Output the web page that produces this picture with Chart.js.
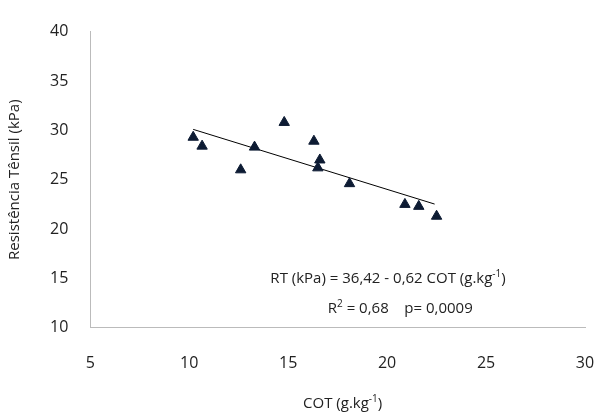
<!DOCTYPE html>
<html><head><meta charset="utf-8">
<script src="https://cdn.jsdelivr.net/npm/chart.js@4"></script>
<style>body{margin:0;background:#fff}#wrap{width:600px;height:418px}</style>
</head><body><div id="wrap"><canvas id="c"></canvas></div>
<script>
const cotValues = [10.2, 10.65, 12.6, 13.3, 14.8, 16.3, 16.6, 16.5, 18.1, 20.9, 21.6, 22.5];
const rtValues = [29.3, 28.4, 26.0, 28.3, 30.8, 28.9, 27.0, 26.2, 24.6, 22.5, 22.3, 21.3];
const intercept = 36.42;
const slope = -0.62;
const trendX = [10.2, 22.4];

const font = "'Open Sans', 'Liberation Sans', sans-serif";

const equationText = {
  id: 'equationText',
  afterDraw(chart) {
    const ctx = chart.ctx, xs = chart.scales.x, ys = chart.scales.y;
    ctx.save();
    ctx.fillStyle = '#222';
    ctx.font = '15px ' + font;
    ctx.textBaseline = 'alphabetic';
    let x = xs.getPixelForValue(14.1), y = ys.getPixelForValue(14.5);
    let t = 'RT (kPa) = 36,42 - 0,62 COT (g.kg';
    ctx.fillText(t, x, y);
    let w = ctx.measureText(t).width;
    ctx.font = '10px ' + font;
    ctx.fillText('-1', x + w, y - 6);
    let w2 = ctx.measureText('-1').width;
    ctx.font = '15px ' + font;
    ctx.fillText(')', x + w + w2, y);
    x = xs.getPixelForValue(17.0); y = ys.getPixelForValue(11.5);
    ctx.fillText('R', x, y);
    w = ctx.measureText('R').width;
    ctx.font = '10px ' + font;
    ctx.fillText('2', x + w, y - 6);
    w2 = ctx.measureText('2').width;
    ctx.font = '15px ' + font;
    ctx.fillText(' = 0,68    p= 0,0009', x + w + w2, y);
    // x title
    const cx = (xs.left + xs.right) / 2 + 5, cy = 408;
    t = 'COT (g.kg';
    w = ctx.measureText(t).width;
    ctx.font = '10px ' + font; w2 = ctx.measureText('-1').width;
    ctx.font = '15px ' + font;
    const w3 = ctx.measureText(')').width;
    const sx = cx - (w + w2 + w3) / 2;
    ctx.fillText(t, sx, cy);
    ctx.font = '10px ' + font; ctx.fillText('-1', sx + w, cy - 6);
    ctx.font = '15px ' + font; ctx.fillText(')', sx + w + w2, cy);
    ctx.restore();
  }
};

new Chart(document.getElementById('c'), {
  type: 'scatter',
  data: {
    datasets: [{
      data: cotValues.map((x, i) => ({x, y: rtValues[i]})),
      pointStyle: 'triangle', pointRadius: 6, pointHoverRadius: 6,
      backgroundColor: '#0d1b33', borderColor: '#0d1b33', borderWidth: 1
    }, {
      type: 'line',
      data: trendX.map(x => ({x, y: intercept + slope * x})),
      borderColor: '#000', borderWidth: 1, pointRadius: 0, fill: false
    }]
  },
  options: {
    responsive: true, maintainAspectRatio: false, animation: false,
    layout: {padding: {left: 2, right: 15, top: 8, bottom: 19}},
    plugins: {legend: {display: false}, tooltip: {enabled: false}},
    scales: {
      x: {
        min: 5, max: 30,
        afterFit(s) { s.paddingRight = 0; },
        ticks: {stepSize: 5, color: '#222', font: {size: 16, family: font}, padding: 26},
        grid: {display: false, drawTicks: false},
        border: {color: '#bbb'}
      },
      y: {
        min: 10, max: 40,
        ticks: {stepSize: 5, color: '#222', font: {size: 16, family: font}, padding: 22},
        grid: {display: false, drawTicks: false},
        border: {color: '#bbb'},
        title: {display: true, text: 'Resistência Tênsil (kPa)', color: '#222', font: {size: 15, family: font}}
      }
    }
  },
  plugins: [equationText]
});
</script></body></html>
